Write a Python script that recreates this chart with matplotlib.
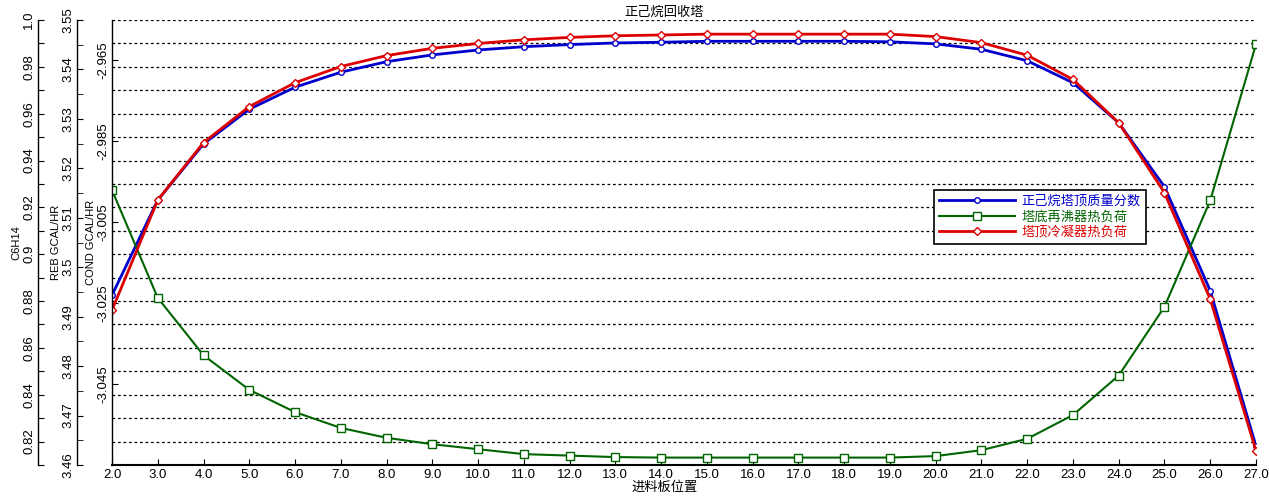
import matplotlib
matplotlib.use("Agg")
import matplotlib.pyplot as plt

plt.rcParams["font.family"] = ["Liberation Sans", "Noto Sans CJK SC"]

# feed stage positions and the three responses
stages = [2.0, 3.0, 4.0, 5.0, 6.0, 7.0, 8.0, 9.0, 10.0, 11.0, 12.0, 13.0, 14.0,
          15.0, 16.0, 17.0, 18.0, 19.0, 20.0, 21.0, 22.0, 23.0, 24.0, 25.0, 26.0, 27.0]
c6h14 = [0.8825, 0.9231, 0.9471, 0.9619, 0.9713, 0.9777, 0.9822, 0.9851, 0.9872,
         0.9886, 0.9895, 0.9902, 0.9905, 0.9909, 0.9909, 0.9909, 0.9909, 0.9907,
         0.9898, 0.9875, 0.9826, 0.9732, 0.9561, 0.9288, 0.8844, 0.8181]
reb = [3.5156, 3.4938, 3.4822, 3.4752, 3.4707, 3.4675, 3.4655, 3.4642, 3.4632,
       3.4622, 3.4619, 3.4616, 3.4615, 3.4615, 3.4615, 3.4615, 3.4615, 3.4615,
       3.4618, 3.4630, 3.4653, 3.4701, 3.4781, 3.4920, 3.5135, 3.5451]
cond = [-3.0267, -2.9995, -2.9853, -2.9764, -2.9705, -2.9665, -2.9638, -2.9620,
        -2.9608, -2.9599, -2.9593, -2.9589, -2.9587, -2.9585, -2.9585, -2.9585,
        -2.9585, -2.9585, -2.9591, -2.9606, -2.9637, -2.9697, -2.9804, -2.9977,
        -3.0240, -3.0615]

c6_ticks = [0.81, 0.82, 0.83, 0.84, 0.85, 0.86, 0.87, 0.88, 0.89, 0.90, 0.91,
            0.92, 0.93, 0.94, 0.95, 0.96, 0.97, 0.98, 0.99, 1.0]
c6_labels = ["", "0.82", "", "0.84", "", "0.86", "", "0.88", "", "0.9", "",
             "0.92", "", "0.94", "", "0.96", "", "0.98", "", "1.0"]
reb_ticks = [3.46, 3.47, 3.48, 3.49, 3.50, 3.51, 3.52, 3.53, 3.54, 3.55]
reb_labels = ["3.46", "3.47", "3.48", "3.49", "3.5", "3.51", "3.52", "3.53", "3.54", "3.55"]
reb_minor = [3.465, 3.475, 3.485, 3.495, 3.505, 3.515, 3.525, 3.535, 3.545]
cond_ticks = [-3.045, -3.025, -3.005, -2.985, -2.965]
cond_labels = ["-3.045", "-3.025", "-3.005", "-2.985", "-2.965"]

BLUE = "#0000CC"
GREEN = "#006400"
RED = "#DD0000"

fig = plt.figure(figsize=(12.69, 5.0), dpi=100)
fig.patch.set_facecolor("white")

# bottom layer: C6H14 axis, holds the x axis and the dashed grid
ax_c = fig.add_axes([112 / 1269, 35 / 500, 1144 / 1269, 445 / 500])
ax_r = ax_c.twinx()
ax_d = ax_c.twinx()

for a in (ax_c, ax_r, ax_d):
    a.spines["top"].set_visible(False)
    a.spines["right"].set_visible(False)
    a.yaxis.tick_left()
    a.yaxis.set_label_position("left")
    a.set_xlim(2.0, 27.0)
ax_r.patch.set_visible(False)
ax_d.patch.set_visible(False)
ax_r.spines["bottom"].set_visible(False)
ax_d.spines["bottom"].set_visible(False)
ax_c.spines["bottom"].set_linewidth(1.5)

ax_c.spines["left"].set_position(("axes", (38 - 112) / 1144))
ax_r.spines["left"].set_position(("axes", (77 - 112) / 1144))
for a in (ax_c, ax_r, ax_d):
    a.spines["left"].set_visible(True)
    a.spines["left"].set_linewidth(1.0)

ax_c.plot(stages, c6h14, color=BLUE, lw=2.0, marker="o", ms=4, mfc="white",
          mec=BLUE, mew=1.0, label="正己烷塔顶质量分数")
ax_r.plot(stages, reb, color=GREEN, lw=1.5, marker="s", ms=5.5, mfc="white",
          mec=GREEN, mew=1.0, label="塔底再沸器热负荷")
ax_d.plot(stages, cond, color=RED, lw=2.0, marker="D", ms=4, mfc="white",
          mec=RED, mew=1.0, label="塔顶冷凝器热负荷")

ax_c.set_ylim(0.81, 1.0)
ax_r.set_ylim(3.46, 3.55)
ax_d.set_ylim(-3.065, -2.955)

ax_c.set_yticks(c6_ticks, c6_labels)
ax_r.set_yticks(reb_ticks, reb_labels)
ax_r.set_yticks(reb_minor, minor=True)
ax_d.set_yticks(cond_ticks, cond_labels)

for a in (ax_c, ax_r, ax_d):
    a.tick_params(axis="y", which="both", direction="in", length=4, pad=2,
                  labelsize=9.5)
    for t in a.get_yticklabels():
        t.set_rotation(90)
        t.set_va("center")

ax_c.set_xticks(stages, [f"{s:.1f}" for s in stages])
ax_c.tick_params(axis="x", direction="in", length=4, pad=3, labelsize=9.5)
ax_r.tick_params(axis="x", bottom=False, labelbottom=False)
ax_d.tick_params(axis="x", bottom=False, labelbottom=False)

ax_c.grid(axis="y", color="black", linestyle=(0, (2.2, 2.2)), linewidth=0.9)
ax_c.set_axisbelow(True)

ax_c.set_ylabel("C6H14", fontsize=8, labelpad=1)
ax_r.set_ylabel("REB GCAL/HR", fontsize=8, labelpad=1)
ax_d.set_ylabel("COND GCAL/HR", fontsize=8, labelpad=1)

ax_c.set_title("正己烷回收塔", fontsize=9.5, pad=3, x=0.483)
ax_c.set_xlabel("进料板位置", fontsize=9.5)
ax_c.xaxis.set_label_coords(0.483, -0.036)

handles = ax_c.get_lines()[:1] + ax_r.get_lines() + ax_d.get_lines()
leg = ax_d.legend(handles, [h.get_label() for h in handles], loc="upper left",
                  bbox_to_anchor=((934 - 112) / 1144, (465 - 190) / 445),
                  borderaxespad=0, fontsize=9.5, handlelength=5.8, fancybox=False,
                  framealpha=1, edgecolor="black", borderpad=0.35,
                  labelspacing=0.25, handletextpad=0.5)
leg.get_frame().set_linewidth(1.2)
for txt, col in zip(leg.get_texts(), (BLUE, GREEN, RED)):
    txt.set_color(col)

fig.savefig("out.png", dpi=100, facecolor="white")
